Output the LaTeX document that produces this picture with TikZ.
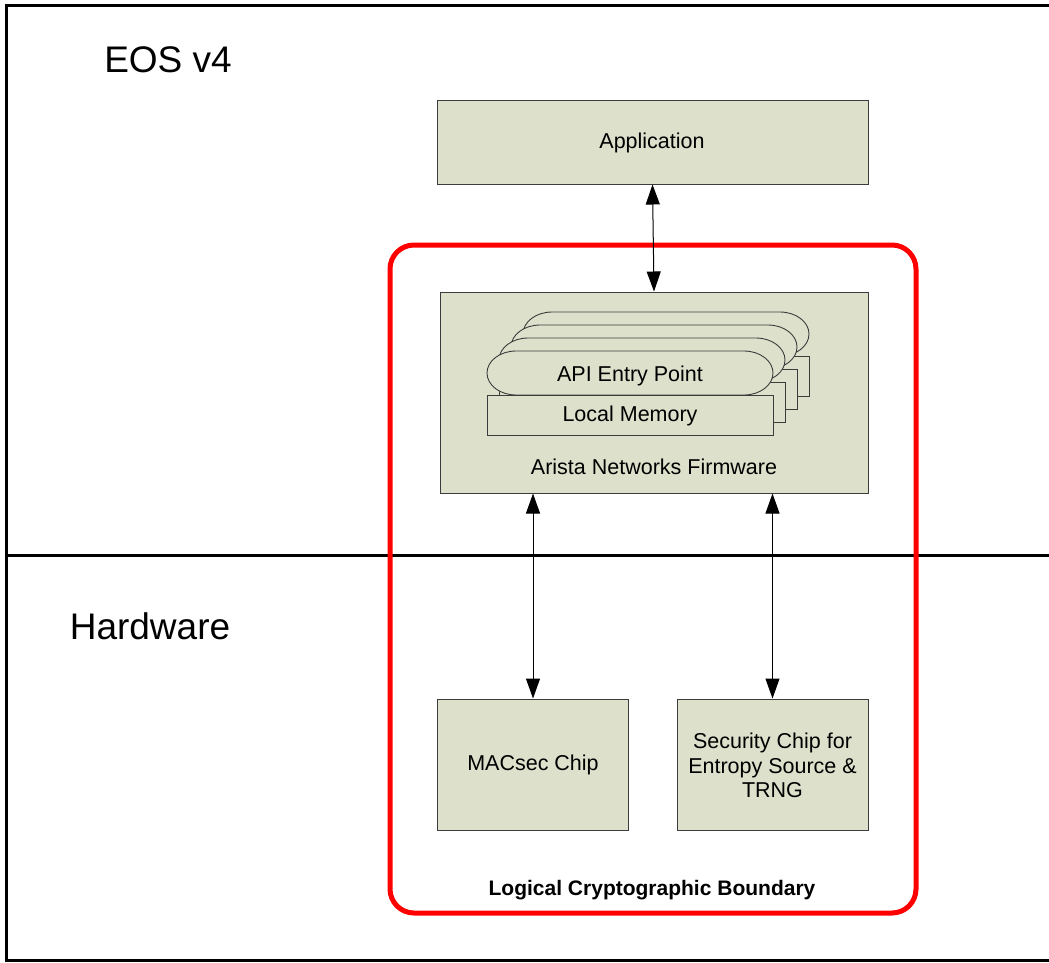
\documentclass[tikz,border=0pt]{standalone}
\usepackage{fontspec}
\setmainfont{Liberation Sans}
\usetikzlibrary{arrows.meta}
\definecolor{boxfill}{RGB}{221,224,203}
\definecolor{boxline}{RGB}{60,60,60}
\definecolor{bred}{RGB}{255,0,0}
\begin{document}
\begin{tikzpicture}[x=1pt,y=-1pt,
  box/.style={draw=boxline, line width=1pt, fill=boxfill, inner sep=0pt, align=center, font=\fontsize{21.5}{24.5}\selectfont},
  txt/.style={font=\fontsize{21.5}{24.5}\selectfont, inner sep=0pt},
  big/.style={font=\fontsize{37}{40}\selectfont, inner sep=0pt},
  stackline/.style={draw=boxline, fill=boxfill, line width=0.9pt},
  link/.style={line width=1pt, {Triangle[length=20pt,width=14pt]}-{Triangle[length=20pt,width=14pt]}}]
\useasboundingbox (0,0) rectangle (1049,962);
% frame and divider
\draw[line width=3pt] (1049,5.5) -- (6,5.5) -- (6,960.5) -- (1049,960.5);
\draw[line width=3pt] (6,555) -- (1049,555);
\node[big] (eos) at (168,60) {EOS v4};
\node[big] (hw) at (150,626) {Hardware};
% red boundary
\draw[bred, line width=5pt, rounded corners=24pt] (390,245) rectangle (916,913);
\node[font=\bfseries\fontsize{21}{24}\selectfont, inner sep=0pt] (lcb) at (652,890) {Logical Cryptographic Boundary};
% boxes
\node[box, minimum width=431pt, minimum height=84pt] (app) at (652.5,142) {};
\node[txt] (appl) at (652,143) {Application};
\node[box, minimum width=428pt, minimum height=201pt] (fw) at (654,392.5) {};
\node[txt] (fwl) at (654,467) {Arista Networks Firmware};
\node[box, minimum width=191pt, minimum height=131pt] (mac) at (533,764.5) {};
\node[txt] (macl) at (533,765) {MACsec Chip};
\node[box, minimum width=191pt, minimum height=131pt] (sec) at (772.5,764.5) {};
\node[txt, align=center] (secl) at (772.5,765.5) {Security Chip for\\Entropy Source \&\\TRNG};
% stacked entry points
\foreach \k in {3,2,1,0}{
  \begin{scope}[shift={(12*\k,-13*\k)}]
    \draw[stackline] (516,351) -- (744,351) arc[start angle=90, end angle=-90, x radius=29pt, y radius=22pt]
      -- (516,395) arc[start angle=270, end angle=90, x radius=29pt, y radius=22pt] -- cycle;
    \draw[stackline] (487,395) rectangle (773,435);
  \end{scope}
}
\node[txt] (api) at (630,376) {API Entry Point};
\node[txt] (mem) at (630,416) {Local Memory};
% connectors
\draw[link] (app.south) -- (fw.north);
\draw[link] (mac.north |- fw.south) -- (mac.north);
\draw[link] (sec.north |- fw.south) -- (sec.north);
\end{tikzpicture}
\end{document}
